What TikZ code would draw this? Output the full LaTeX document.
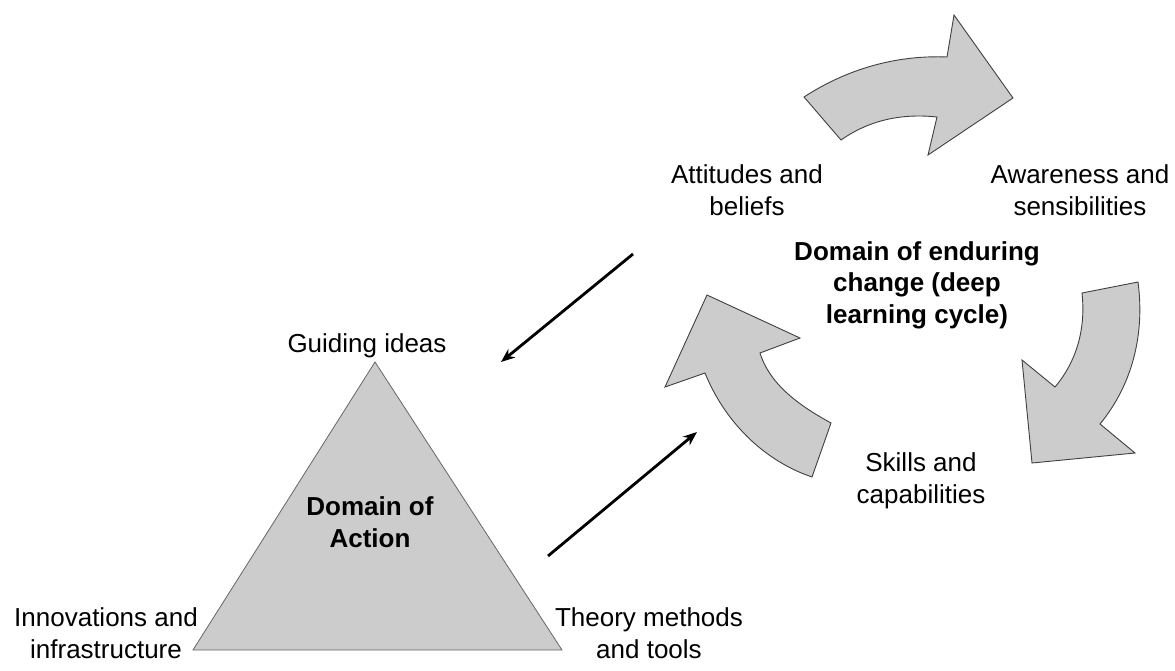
\documentclass[tikz,border=0pt]{standalone}
\usepackage{fontspec}
\setmainfont{Liberation Sans}
\usepackage{tikz}
\usetikzlibrary{arrows.meta, positioning}

\begin{document}
\begin{tikzpicture}[
    x=1pt, y=-1pt,
    caption/.style={align=center, inner sep=0pt, anchor=base, font=\fontsize{26}{31.5}\selectfont},
    domaintext/.style={caption, font=\fontsize{26}{31.5}\selectfont\bfseries},
    bigarrow/.style={fill=black!20, draw=black!75, line width=0.9pt, line join=miter},
    link/.style={-{Stealth[length=14pt, width=11pt]}, line width=2.8pt}
]
    \useasboundingbox (0,0) rectangle (1175,670);

    % 行动领域（三角形）
    \coordinate (top) at (375,362);
    \coordinate (left) at (193,650);
    \coordinate (right) at (562,650);
    \filldraw[fill=black!20, draw=black!60, line width=0.8pt] (top) -- (right) -- (left) -- cycle;
    \node[domaintext] (action) at (370,547) {Domain of\\Action};
    \node[caption] (guide) at (367,352) {Guiding ideas};
    \node[caption] (innov) at (106,658) {Innovations and\\infrastructure};
    \node[caption] (theory) at (649,658) {Theory methods\\and tools};

    % 深度学习循环
    \node[caption] (attitude) at (747,215) {Attitudes and\\beliefs};
    \node[caption] (aware) at (1080,215) {Awareness and\\sensibilities};
    \node[caption] (skill) at (921,503) {Skills and\\capabilities};
    \node[domaintext] (change) at (917,323) {Domain of enduring\\change (deep\\learning cycle)};

    % 弯箭头
    \draw[bigarrow] (804,97) .. controls (850,67) and (900,55) .. (947,57)
        -- (954,15) -- (1013,98) -- (928,155) -- (937,117)
        .. controls (900,113) and (868,121) .. (841,140) -- cycle;
    \draw[bigarrow] (1082,293) .. controls (1086,330) and (1076,362) .. (1055,387)
        -- (1022,360) -- (1032,463) -- (1135,453) -- (1100,424)
        .. controls (1132,385) and (1145,335) .. (1138,282) -- cycle;
    \draw[bigarrow] (812,477) -- (831,423) .. controls (800,406) and (770,385) .. (760,353)
        -- (800,338) -- (707,295) -- (665,387) -- (705,373)
        .. controls (724,420) and (762,460) .. (812,477) -- cycle;

    % 两个领域之间的箭头
    \coordinate (from1) at (633,254);
    \coordinate (to1) at (501,362);
    \coordinate (from2) at (548,556);
    \coordinate (to2) at (697,432);
    \draw[link] (from1) -- (to1);
    \draw[link] (from2) -- (to2);
\end{tikzpicture}
\end{document}
